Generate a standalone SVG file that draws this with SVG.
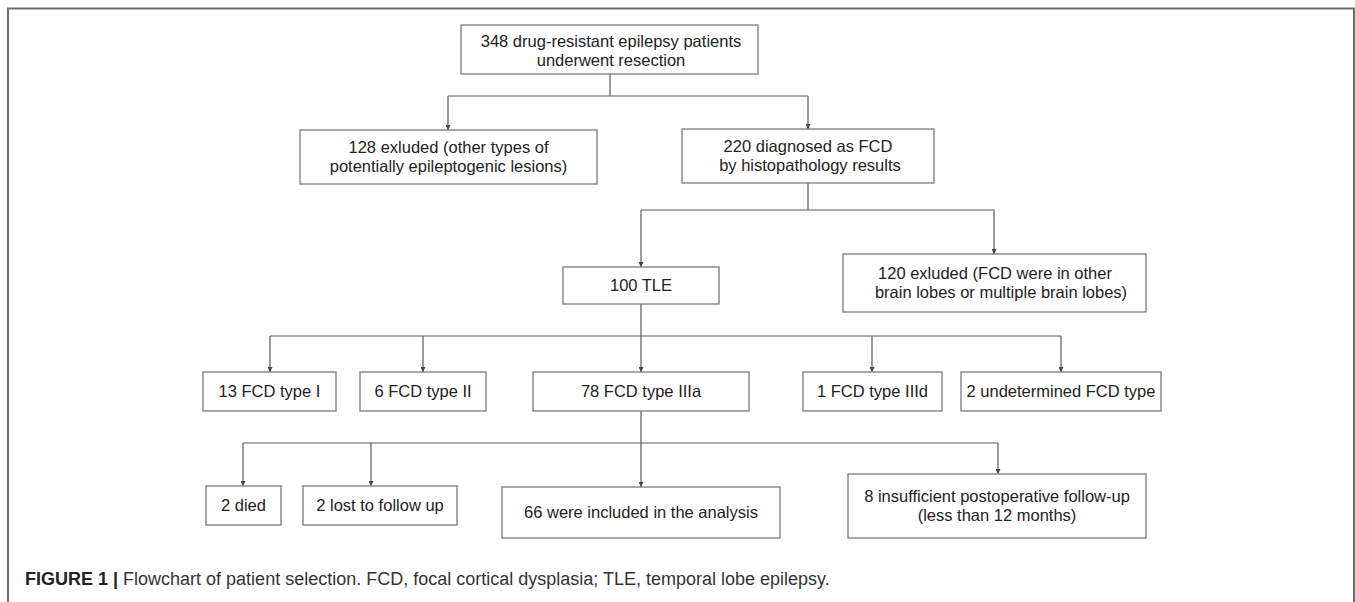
<svg xmlns="http://www.w3.org/2000/svg" width="1355" height="602" viewBox="0 0 1355 602">
<style>
.box{fill:#fff;stroke:#7a7a7a;stroke-width:1.3}
.t{font-family:"Liberation Sans",Arial,sans-serif;font-size:16.5px;fill:#222;text-anchor:middle}
.c{fill:none;stroke:#5a5a5a;stroke-width:1.2}
.cap{font-family:"Liberation Sans",Arial,sans-serif;font-size:18px;fill:#333}
</style>
<defs>
<marker id="ah" viewBox="0 0 10 10" refX="10" refY="5" markerWidth="5" markerHeight="5" markerUnits="userSpaceOnUse" orient="auto">
<path d="M0,0 L10,5 L0,10 z" fill="#444"/>
</marker>
</defs>
<rect width="1355" height="602" fill="#fff"/>
<path d="M8,604 V8.5 H1354 V604" fill="none" stroke="#6e6e6e" stroke-width="2"/>

<g id="connectors">
<path class="c" d="M610,74 V96"/>
<path class="c" d="M448,96 H808"/>
<path class="c" d="M448,96 V130" marker-end="url(#ah)"/>
<path class="c" d="M808,96 V129" marker-end="url(#ah)"/>
<path class="c" d="M808,183 V210"/>
<path class="c" d="M641,210 H994"/>
<path class="c" d="M641,210 V267" marker-end="url(#ah)"/>
<path class="c" d="M994,210 V254" marker-end="url(#ah)"/>
<path class="c" d="M641,304 V336"/>
<path class="c" d="M270,336 H1061"/>
<path class="c" d="M270,336 V372" marker-end="url(#ah)"/>
<path class="c" d="M423,336 V372" marker-end="url(#ah)"/>
<path class="c" d="M641,336 V372" marker-end="url(#ah)"/>
<path class="c" d="M872,336 V372" marker-end="url(#ah)"/>
<path class="c" d="M1061,336 V372" marker-end="url(#ah)"/>
<path class="c" d="M641,411 V443"/>
<path class="c" d="M243,443 H998"/>
<path class="c" d="M243,443 V486" marker-end="url(#ah)"/>
<path class="c" d="M371,443 V486" marker-end="url(#ah)"/>
<path class="c" d="M641,443 V487" marker-end="url(#ah)"/>
<path class="c" d="M998,443 V474" marker-end="url(#ah)"/>
</g>

<g id="n348">
<rect class="box" x="461" y="25" width="297" height="49"/>
<text class="t" x="611" y="47">348 drug-resistant epilepsy patients</text>
<text class="t" x="611" y="66">underwent resection</text>
</g>
<g id="n128">
<rect class="box" x="300" y="130" width="297" height="54"/>
<text class="t" x="448.5" y="153">128 exluded (other types of</text>
<text class="t" x="448.5" y="172">potentially epileptogenic lesions)</text>
</g>
<g id="n220">
<rect class="box" x="682" y="129" width="252" height="54"/>
<text class="t" x="808" y="152">220 diagnosed as FCD</text>
<text class="t" x="810" y="171">by histopathology results</text>
</g>
<g id="n100">
<rect class="box" x="563" y="267" width="156" height="37"/>
<text class="t" x="641" y="291">100 TLE</text>
</g>
<g id="n120">
<rect class="box" x="843" y="254" width="303" height="58"/>
<text class="t" x="995" y="279">120 exluded (FCD were in other</text>
<text class="t" x="1001" y="298">brain lobes or multiple brain lobes)</text>
</g>
<g id="n13">
<rect class="box" x="203" y="372" width="133" height="39"/>
<text class="t" x="269.5" y="397">13 FCD type I</text>
</g>
<g id="n6">
<rect class="box" x="360" y="372" width="126" height="39"/>
<text class="t" x="423" y="397">6 FCD type II</text>
</g>
<g id="n78">
<rect class="box" x="533" y="372" width="216" height="39"/>
<text class="t" x="641" y="397">78 FCD type IIIa</text>
</g>
<g id="n1">
<rect class="box" x="803" y="372" width="139" height="39"/>
<text class="t" x="872.5" y="397">1 FCD type IIId</text>
</g>
<g id="n2u">
<rect class="box" x="961" y="372" width="200" height="39"/>
<text class="t" x="1061" y="397">2 undetermined FCD type</text>
</g>
<g id="n2d">
<rect class="box" x="206" y="486" width="75" height="39"/>
<text class="t" x="243.5" y="511">2 died</text>
</g>
<g id="n2l">
<rect class="box" x="303" y="486" width="154" height="39"/>
<text class="t" x="380" y="511">2 lost to follow up</text>
</g>
<g id="n66">
<rect class="box" x="502" y="487" width="278" height="51"/>
<text class="t" x="641" y="518">66 were included in the analysis</text>
</g>
<g id="n8">
<rect class="box" x="848" y="474" width="298" height="64"/>
<text class="t" x="997" y="502">8 insufficient postoperative follow-up</text>
<text class="t" x="997" y="521">(less than 12 months)</text>
</g>

<text class="cap" x="25" y="585"><tspan font-weight="bold" fill="#222">FIGURE 1 |</tspan> Flowchart of patient selection. FCD, focal cortical dysplasia; TLE, temporal lobe epilepsy.</text>
</svg>
